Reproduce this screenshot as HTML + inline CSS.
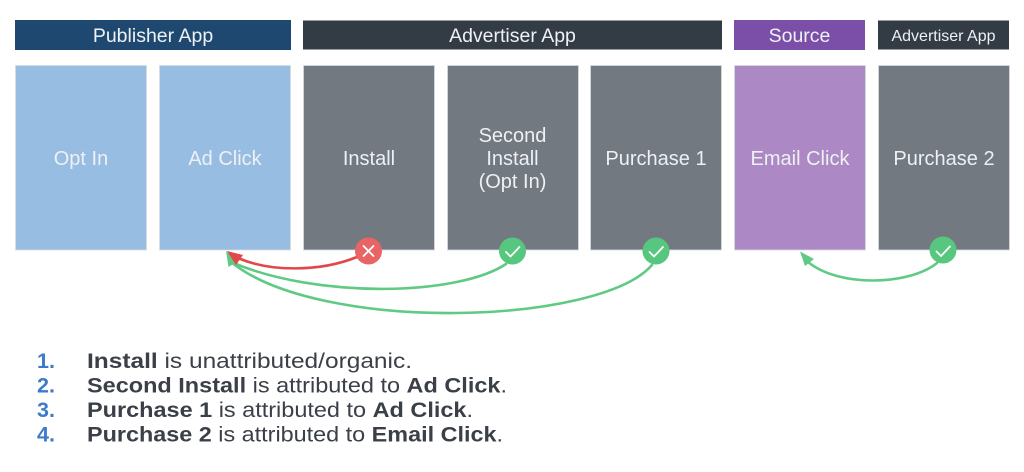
<!DOCTYPE html>
<html><head><meta charset="utf-8"><style>
html,body{margin:0;padding:0;background:#fff;width:1024px;height:472px;overflow:hidden}
svg{display:block}
</style></head><body>
<svg width="1024" height="472" viewBox="0 0 1024 472" xmlns="http://www.w3.org/2000/svg" font-family="'Liberation Sans', sans-serif">
<!-- header bars -->
<rect x="15" y="20" width="276" height="30" fill="#1e4870"/>
<rect x="303" y="20.5" width="419" height="29" fill="#333b45"/>
<rect x="734" y="20" width="131" height="30" fill="#7b4fa8"/>
<rect x="878" y="20.5" width="131" height="29" fill="#333b45"/>
<g fill="#eef1f5" text-anchor="middle">
<text x="153" y="42" font-size="19.5">Publisher App</text>
<text x="512.5" y="42" font-size="19.5">Advertiser App</text>
<text x="799.5" y="42" font-size="19.5">Source</text>
<text x="943.5" y="41" font-size="16">Advertiser App</text>
</g>
<!-- boxes -->
<g stroke="#d6dbe2" stroke-width="0.8">
<rect x="15.5" y="65.5" width="131" height="184.5" fill="#98bde2"/>
<rect x="159.5" y="65.5" width="131" height="184.5" fill="#98bde2"/>
<rect x="303.5" y="65.5" width="131" height="184.5" fill="#737980"/>
<rect x="447.5" y="65.5" width="131" height="184.5" fill="#737980"/>
<rect x="590.5" y="65.5" width="131" height="184.5" fill="#737980"/>
<rect x="734.5" y="65.5" width="131" height="184.5" fill="#ac89c5"/>
<rect x="878.5" y="65.5" width="131" height="184.5" fill="#737980"/>
</g>
<g fill="#eef0f4" text-anchor="middle" font-size="20">
<text x="81" y="165">Opt In</text>
<text x="225" y="165">Ad Click</text>
<text x="369" y="165">Install</text>
<text x="512.5" y="142">Second</text>
<text x="512.5" y="165">Install</text>
<text x="512.5" y="188">(Opt In)</text>
<text x="656" y="165">Purchase 1</text>
<text x="800" y="165">Email Click</text>
<text x="944" y="165">Purchase 2</text>
</g>
<!-- connectors -->
<g fill="none" stroke-width="2.6" stroke-linecap="round">
<path d="M 652 265 C 600 325, 320 334, 231 262" stroke="#5fca83"/>
<path d="M 506 264 C 460 295, 320 300, 231 262" stroke="#5fca83"/>
<path d="M 357 257 C 320 272, 270 272, 238 258" stroke="#e2474a"/>
<path d="M 937 263 C 910 285, 840 288, 808 262" stroke="#5fca83"/>
</g>
<polygon points="226,251 228.5,267 238,261" fill="#5fca83"/>
<polygon points="227,251 243,255 236,265" fill="#e2474a"/>
<polygon points="800,251.5 805,266 814,259" fill="#5fca83"/>
<!-- status circles -->
<circle cx="368.5" cy="251" r="13.5" fill="#e96565"/>
<path d="M363.5,246 L373.5,256 M373.5,246 L363.5,256" stroke="#fff" stroke-width="1.8" stroke-linecap="round"/>
<circle cx="512.5" cy="251" r="13.5" fill="#57c67e"/>
<circle cx="656" cy="251" r="13.5" fill="#57c67e"/>
<circle cx="943" cy="250" r="13.5" fill="#57c67e"/>
<g fill="none" stroke="#fff" stroke-width="1.8" stroke-linecap="round" stroke-linejoin="round">
<path d="M506,252 L510.5,256.5 L519.5,247"/>
<path d="M649.5,252 L654,256.5 L663,247"/>
<path d="M936.5,251.5 L941,256 L950,246.5"/>
</g>
<!-- list -->
<g font-size="21.5" font-weight="bold" fill="#3b7bc8">
<text x="37" y="368">1.</text>
<text x="37" y="392.5">2.</text>
<text x="37" y="417">3.</text>
<text x="37" y="441.5">4.</text>
</g>
<g font-size="21.5" fill="#3b4048">
<text x="87" y="368" textLength="325" lengthAdjust="spacingAndGlyphs"><tspan font-weight="bold">Install</tspan> is unattributed/organic.</text>
<text x="87" y="392.5" textLength="420" lengthAdjust="spacingAndGlyphs"><tspan font-weight="bold">Second Install</tspan> is attributed to <tspan font-weight="bold">Ad Click</tspan>.</text>
<text x="87" y="417" textLength="386" lengthAdjust="spacingAndGlyphs"><tspan font-weight="bold">Purchase 1</tspan> is attributed to <tspan font-weight="bold">Ad Click</tspan>.</text>
<text x="87" y="441.5" textLength="416" lengthAdjust="spacingAndGlyphs"><tspan font-weight="bold">Purchase 2</tspan> is attributed to <tspan font-weight="bold">Email Click</tspan>.</text>
</g>
</svg>
</body></html>
